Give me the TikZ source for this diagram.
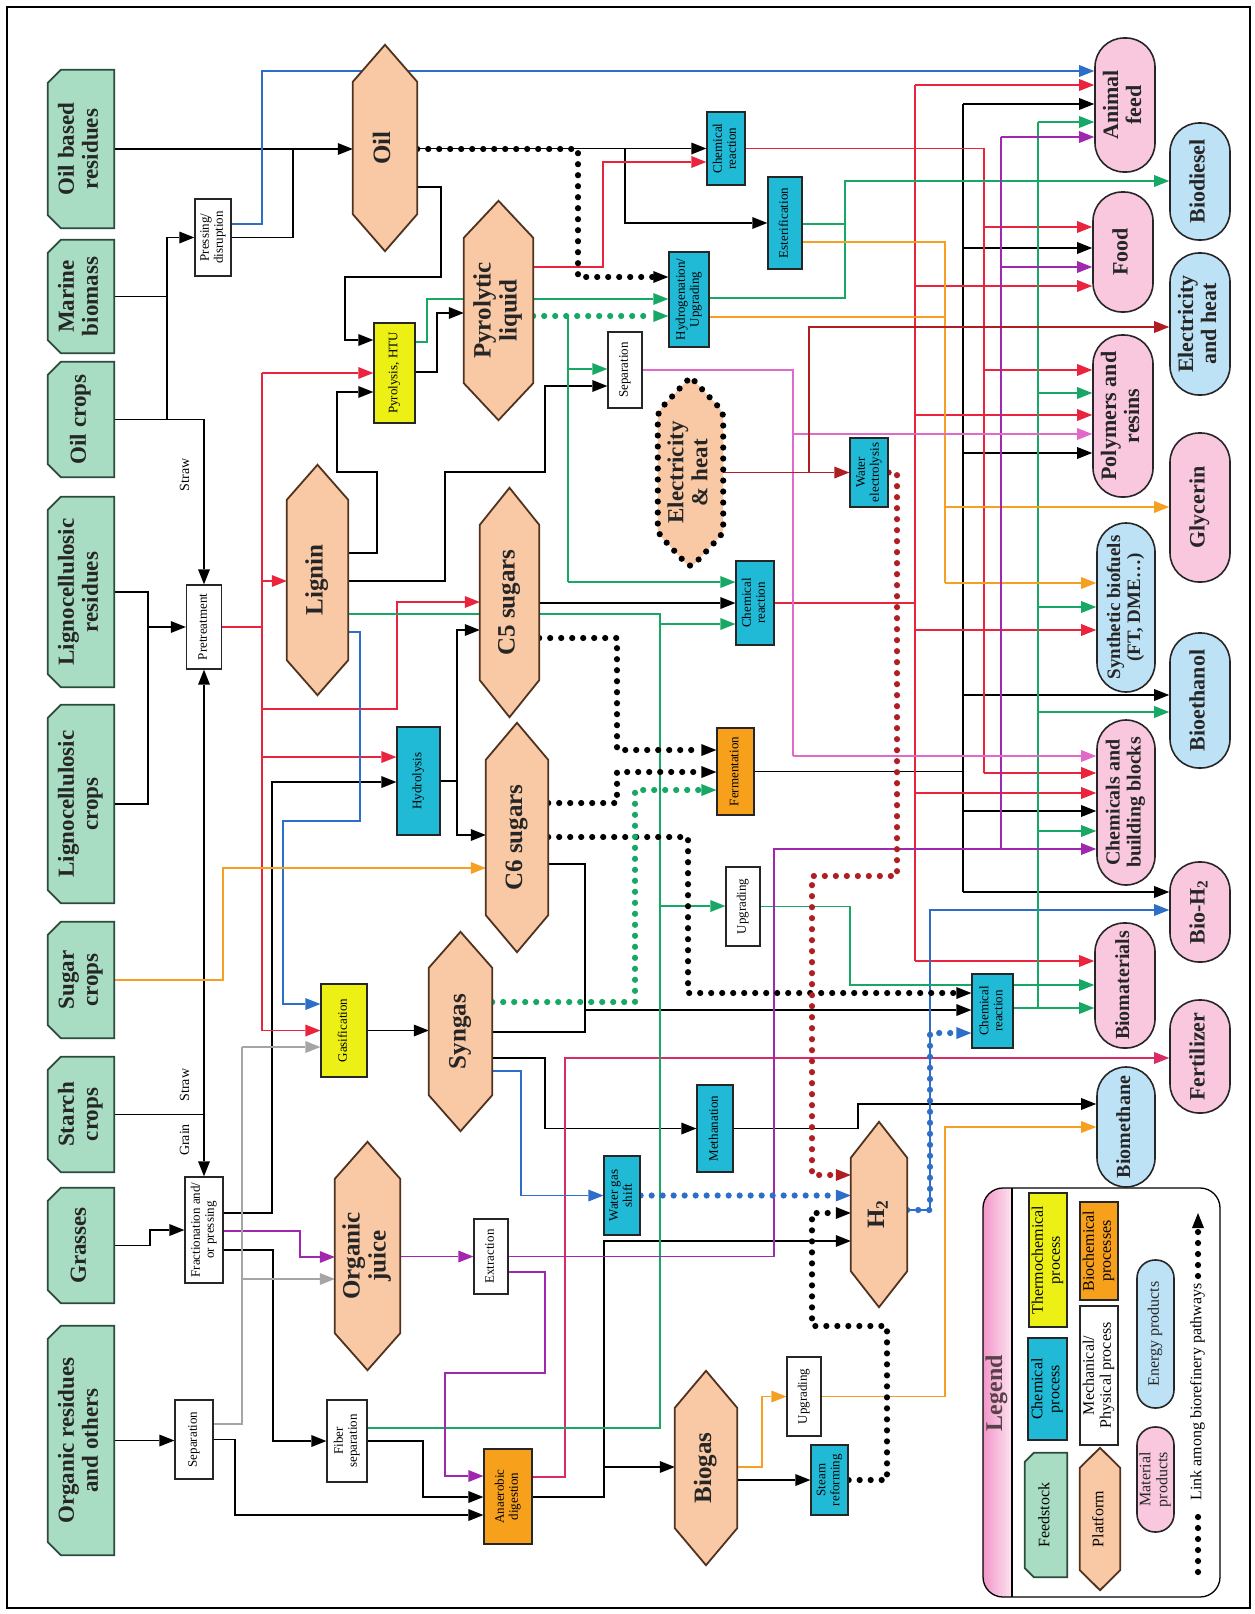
\documentclass[tikz,border=0pt]{standalone}
\usepackage{fontspec}
\setmainfont{Liberation Serif}
\usepackage{graphicx}
\usetikzlibrary{arrows.meta}
\pgfdeclarelayer{bg}
\pgfdeclarelayer{mid}
\pgfsetlayers{bg,mid,main}
\definecolor{cfeed}{RGB}{168,221,195}
\definecolor{cfeedd}{RGB}{45,75,60}
\definecolor{cplat}{RGB}{249,200,164}
\definecolor{cplatd}{RGB}{80,50,30}
\definecolor{ccyan}{RGB}{32,186,214}
\definecolor{cyel}{RGB}{236,240,20}
\definecolor{corg}{RGB}{247,160,28}
\definecolor{cenergy}{RGB}{190,226,245}
\definecolor{cmat}{RGB}{249,200,222}
\definecolor{cstripa}{RGB}{242,150,200}
\definecolor{cstripb}{RGB}{252,228,240}
\definecolor{lred}{RGB}{234,36,60}
\definecolor{lblue}{RGB}{45,110,200}
\definecolor{lgreen}{RGB}{22,168,100}
\definecolor{lorange}{RGB}{246,160,35}
\definecolor{lpurple}{RGB}{160,40,175}
\definecolor{lpink}{RGB}{225,105,200}
\definecolor{lmaroon}{RGB}{175,30,35}
\definecolor{lgray}{RGB}{165,165,165}
\definecolor{lcrim}{RGB}{215,45,100}
\newcommand\rt[1]{\rotatebox{90}{\begin{tabular}{@{}c@{}}#1\end{tabular}}}
\newcommand\myhex[3]{\path[#3] (#1.north) -- ([yshift=-#2pt]#1.north east) -- ([yshift=#2pt]#1.south east) -- (#1.south) -- ([yshift=#2pt]#1.south west) -- ([yshift=-#2pt]#1.north west) -- cycle;}
\newcommand\myfeed[2]{\path[feedshape] ([yshift=-#2pt]#1.north west) -- ([xshift=#2pt]#1.north west) -- (#1.north east) -- (#1.south east) -- ([xshift=#2pt]#1.south west) -- ([yshift=#2pt]#1.south west) -- cycle;}
\begin{document}
\begin{tikzpicture}[x=1pt,y=-1pt,
  feedshape/.style={fill=cfeed,draw=cfeedd,line width=1.8pt},
  feedtxt/.style={inner sep=0,font=\fontsize{23}{24}\selectfont\bfseries,text=black!85},
  platshape/.style={fill=cplat,draw=cplatd,line width=1.8pt},
  plattxt/.style={inner sep=0,font=\fontsize{25}{26}\selectfont\bfseries,text=black!85},
  proc/.style={draw=black!85,line width=1.3pt,inner sep=0,font=\fontsize{13}{14}\selectfont},
  prod/.style={draw=black!85,line width=1.6pt,inner sep=0,rounded corners=29pt,minimum width=60pt,font=\fontsize{22}{23}\selectfont\bfseries,text=black!85},
  lbl/.style={inner sep=0,font=\fontsize{14}{15}\selectfont},
  legtxt/.style={inner sep=0,font=\fontsize{16}{17}\selectfont},
  ar/.style={-{Triangle[length=15pt,width=12pt,line width=0pt]}},
  kl/.style={black,line width=1.6pt},
  rl/.style={lred,line width=1.4pt},
  crl/.style={lcrim,line width=1.4pt},
  bll/.style={lblue,line width=1.4pt},
  gl/.style={lgreen,line width=1.4pt},
  ol/.style={lorange,line width=1.4pt},
  pl/.style={lpurple,line width=1.6pt},
  pkl/.style={lpink,line width=1.3pt},
  ml/.style={lmaroon,line width=1.5pt},
  grl/.style={lgray,line width=1.4pt},
  dotl/.style={line width=6.2pt,line cap=round,dash pattern=on 0pt off 11pt},
  kd/.style={black,dotl},
  gd/.style={lgreen,dotl},
  bld/.style={lblue,dotl},
  md/.style={lmaroon,dotl}
]
\useasboundingbox (0,0) rectangle (1255,1614);
\begin{pgfonlayer}{bg}
\fill[white] (0,0) rectangle (1255,1614);
\end{pgfonlayer}

% ---------- feedstock ----------
\node[feedtxt,minimum width=66pt,minimum height=158pt] (fOilRes) at (81,149) {\rt{Oil based\\residues}};
\node[feedtxt,minimum width=66pt,minimum height=113pt] (fMarine) at (81,296.5) {\rt{Marine\\biomass}};
\node[feedtxt,minimum width=66pt,minimum height=115pt] (fOilCrops) at (81,419.5) {\rt{Oil crops}};
\node[feedtxt,minimum width=66pt,minimum height=190pt] (fLigRes) at (81,592) {\rt{Lignocellulosic\\residues}};
\node[feedtxt,minimum width=66pt,minimum height=198pt] (fLigCrops) at (81,804) {\rt{Lignocellulosic\\crops}};
\node[feedtxt,minimum width=66pt,minimum height=116pt] (fSugar) at (81,980) {\rt{Sugar\\crops}};
\node[feedtxt,minimum width=66pt,minimum height=115pt] (fStarch) at (81,1114.5) {\rt{Starch\\crops}};
\node[feedtxt,minimum width=66pt,minimum height=115pt] (fGrasses) at (81,1245.5) {\rt{Grasses}};
\node[feedtxt,minimum width=66pt,minimum height=229pt] (fOrganic) at (81,1440.5) {\rt{Organic residues\\and others}};

% ---------- platforms ----------
\node[plattxt,minimum width=64pt,minimum height=206pt] (oil) at (385,148) {\rt{Oil}};
\node[plattxt,minimum width=69pt,minimum height=219pt] (pyro) at (498.5,310.5) {\rt{Pyrolytic\\liquid}};
\node[plattxt,minimum width=61pt,minimum height=230pt] (lignin) at (317.5,580) {\rt{Lignin}};
\node[plattxt,minimum width=59pt,minimum height=229pt] (c5) at (509.5,602.5) {\rt{C5 sugars}};
\node[plattxt,minimum width=62pt,minimum height=229pt] (c6) at (517,837.5) {\rt{C6 sugars}};
\node[plattxt,minimum width=63pt,minimum height=199pt] (syngas) at (460.5,1031.5) {\rt{Syngas}};
\node[plattxt,minimum width=65pt,minimum height=228pt] (ojuice) at (367.5,1256) {\rt{Organic\\juice}};
\node[plattxt,minimum width=62pt,minimum height=194pt] (biogas) at (706,1468) {\rt{Biogas}};
\node[plattxt,minimum width=56pt,minimum height=185pt] (h2) at (879,1214.5) {\rt{H\textsubscript{2}}};
\node[plattxt,minimum width=65pt,minimum height=191pt,font=\fontsize{23}{24}\selectfont\bfseries] (elec) at (690.5,472.5) {\rt{Electricity\\\& heat}};

% ---------- processes ----------
\node[proc,fill=white,minimum width=36pt,minimum height=77pt] (press) at (213,237.5) {\rt{Pressing/\\disruption}};
\node[proc,fill=white,minimum width=35pt,minimum height=84pt] (pret) at (204,627) {\rt{Pretreatment}};
\node[proc,fill=white,minimum width=38pt,minimum height=106pt] (frac) at (204,1230) {\rt{Fractionation and/\\or pressing}};
\node[proc,fill=white,minimum width=38pt,minimum height=79pt] (sepb) at (194,1439.5) {\rt{Separation}};
\node[proc,fill=white,minimum width=40pt,minimum height=82pt] (fiber) at (347,1441) {\rt{Fiber\\separation}};
\node[proc,fill=cyel,minimum width=41pt,minimum height=100pt] (pyrol) at (394.5,373) {\rt{Pyrolysis, HTU}};
\node[proc,fill=ccyan,minimum width=43pt,minimum height=108pt] (hydrol) at (418.5,781) {\rt{Hydrolysis}};
\node[proc,fill=cyel,minimum width=46pt,minimum height=93pt] (gasif) at (344,1030.5) {\rt{Gasification}};
\node[proc,fill=white,minimum width=34pt,minimum height=75pt] (extr) at (491,1256.5) {\rt{Extraction}};
\node[proc,fill=corg,minimum width=48pt,minimum height=95pt] (anaer) at (508,1496.5) {\rt{Anaerobic\\digestion}};
\node[proc,fill=ccyan,minimum width=36pt,minimum height=79pt] (wgs) at (622,1195.5) {\rt{Water gas\\shift}};
\node[proc,fill=ccyan,minimum width=36pt,minimum height=87pt] (meth) at (715,1128.5) {\rt{Methanation}};
\node[proc,fill=white,minimum width=34pt,minimum height=79pt] (upgm) at (743,906.5) {\rt{Upgrading}};
\node[proc,fill=white,minimum width=34pt,minimum height=79pt] (upgb) at (804,1396.5) {\rt{Upgrading}};
\node[proc,fill=ccyan,minimum width=37pt,minimum height=70pt] (steam) at (829.5,1480) {\rt{Steam\\reforming}};
\node[proc,fill=corg,minimum width=37pt,minimum height=87pt] (ferm) at (735.5,771.5) {\rt{Fermentation}};
\node[proc,fill=ccyan,minimum width=38pt,minimum height=84pt] (chemm) at (755,603) {\rt{Chemical\\reaction}};
\node[proc,fill=white,minimum width=34pt,minimum height=76pt] (sept) at (625,370) {\rt{Separation}};
\node[proc,fill=ccyan,minimum width=40pt,minimum height=95pt] (hydrog) at (689,299.5) {\rt{Hydrogenation/\\Upgrading}};
\node[proc,fill=ccyan,minimum width=38pt,minimum height=73pt] (chemt) at (726,148.5) {\rt{Chemical\\reaction}};
\node[proc,fill=ccyan,minimum width=34pt,minimum height=92pt] (ester) at (785,223) {\rt{Esterification}};
\node[proc,fill=ccyan,minimum width=38pt,minimum height=69pt] (welec) at (869,472.5) {\rt{Water\\electrolysis}};
\node[proc,fill=ccyan,minimum width=41pt,minimum height=74pt] (chemb) at (992.5,1011) {\rt{Chemical\\reaction}};

% ---------- products ----------
\node[prod,fill=cmat,minimum height=134pt] (pAnimal) at (1125,105) {\rt{Animal\\feed}};
\node[prod,fill=cmat,minimum height=120pt] (pFood) at (1123,252) {\rt{Food}};
\node[prod,fill=cmat,minimum height=162pt] (pPoly) at (1123,416) {\rt{Polymers and\\resins}};
\node[prod,fill=cenergy,minimum width=58pt,minimum height=169pt,font=\fontsize{19}{20}\selectfont\bfseries] (pSynth) at (1126,607.5) {\rt{Synthetic biofuels\\(FT, DME…)}};
\node[prod,fill=cmat,minimum width=58pt,minimum height=165pt,font=\fontsize{20}{21}\selectfont\bfseries] (pChem) at (1126,802.5) {\rt{Chemicals and\\building blocks}};
\node[prod,fill=cmat,minimum height=125pt,font=\fontsize{20}{21}\selectfont\bfseries] (pBiomat) at (1125,985.5) {\rt{Biomaterials}};
\node[prod,fill=cenergy,minimum width=58pt,minimum height=120pt,font=\fontsize{20}{21}\selectfont\bfseries] (pBiometh) at (1126,1127) {\rt{Biomethane}};
\node[prod,fill=cenergy,minimum height=117pt] (pBiodiesel) at (1200,181.5) {\rt{Biodiesel}};
\node[prod,fill=cenergy,minimum height=142pt] (pElec) at (1200,324) {\rt{Electricity\\and heat}};
\node[prod,fill=cmat,minimum height=149pt] (pGly) at (1200,507.5) {\rt{Glycerin}};
\node[prod,fill=cenergy,minimum height=135pt] (pEthanol) at (1200,700.5) {\rt{Bioethanol}};
\node[prod,fill=cmat,minimum height=100pt] (pBioH2) at (1200,912) {\rt{Bio-H\textsubscript{2}}};
\node[prod,fill=cmat,minimum height=113pt] (pFert) at (1200,1056.5) {\rt{Fertilizer}};

% ---------- labels ----------
\node[lbl] (lStrawA) at (186,475) {\rt{Straw}};
\node[lbl] (lStrawB) at (186,1085) {\rt{Straw}};
\node[lbl] (lGrain) at (186,1140) {\rt{Grain}};

% ---------- legend ----------
\begin{pgfonlayer}{bg}
\begin{scope}
\clip[rounded corners=20pt] (983,1188) rectangle (1220,1597);
\shade[left color=cstripa, right color=cstripb] (983,1188) rectangle (1012,1597);
\end{scope}
\draw[line width=1.3pt,rounded corners=20pt] (983,1188) rectangle (1220,1597);
\draw[line width=1.3pt] (1012,1188) -- (1012,1597);
\end{pgfonlayer}
\node[inner sep=0,font=\fontsize{24}{25}\selectfont\bfseries,text=black!75!magenta] (legTitle) at (997,1393) {\rt{Legend}};
\node[legtxt,minimum width=42pt,minimum height=124pt] (legFeed) at (1046,1515) {\rt{Feedstock}};
\node[proc,legtxt,fill=ccyan,minimum width=39pt,minimum height=102pt] (legChem) at (1047.5,1389) {\rt{Chemical\\process}};
\node[proc,legtxt,fill=cyel,minimum width=38pt,minimum height=134pt] (legThermo) at (1048,1260) {\rt{Thermochemical\\process}};
\node[proc,legtxt,fill=corg,minimum width=38pt,minimum height=98pt] (legBio) at (1099,1251) {\rt{Biochemical\\processes}};
\node[proc,legtxt,fill=white,minimum width=38pt,minimum height=139pt] (legMech) at (1099,1375.5) {\rt{Mechanical/\\Physical process}};
\node[legtxt,minimum width=40pt,minimum height=142pt] (legPlat) at (1100,1519) {\rt{Platform}};
\node[prod,legtxt,fill=cenergy,minimum width=37pt,rounded corners=18pt,minimum height=148pt] (legEnergy) at (1155.5,1334) {\rt{Energy products}};
\node[prod,legtxt,fill=cmat,minimum width=37pt,rounded corners=18pt,minimum height=105pt] (legMat) at (1155.5,1479.5) {\rt{Material\\products}};
\node[legtxt] (legLink) at (1198,1392) {\rt{Link among biorefinery pathways}};

% ---------- shapes (mid layer) ----------
\begin{pgfonlayer}{mid}
\myfeed{fOilRes}{13}
\myfeed{fMarine}{13}
\myfeed{fOilCrops}{13}
\myfeed{fLigRes}{13}
\myfeed{fLigCrops}{13}
\myfeed{fSugar}{13}
\myfeed{fStarch}{13}
\myfeed{fGrasses}{13}
\myfeed{fOrganic}{13}
\myfeed{legFeed}{9}
\myhex{oil}{37}{platshape}
\myhex{pyro}{37}{platshape}
\myhex{lignin}{35}{platshape}
\myhex{c5}{37}{platshape}
\myhex{c6}{37}{platshape}
\myhex{syngas}{36}{platshape}
\myhex{ojuice}{37}{platshape}
\myhex{biogas}{37}{platshape}
\myhex{h2}{36}{platshape}
\myhex{legPlat}{20}{platshape}
\myhex{elec}{35}{fill=cplat,draw=black,dotl,rounded corners=6pt}
\end{pgfonlayer}

% ---------- connectors (bg layer) ----------
\begin{pgfonlayer}{bg}
% black
\draw[kl,ar] (fOilRes.east) -- (fOilRes.east -| oil.west);
\draw[kl] (press.east) -| (293,149);
\draw[kl,ar] (fMarine.east) -- (167,296.5) |- (press.west);
\draw[kl] (fOilCrops.east) -| (167,296.5);
\draw[kl,ar] (fOilCrops.east) -| (pret.north);
\draw[kl,ar] (fLigRes.east) -| (148,627) -- (pret.west);
\draw[kl] (fLigCrops.east) -| (148,627);
\draw[kl] (fStarch.east) -- (204,1114.5);
\draw[kl,ar] (204,1114.5) -- (pret.south);
\draw[kl,ar] (204,1114.5) -- (frac.north);
\draw[kl,ar] (oil.east |- 0,187) -- (441,187) -- (441,277) -| (345,340) -- (pyrol.west |- 0,340);
\draw[kl,ar] (lignin.east |- 0,553) -- (377,553) -- (377,472) -- (337,472) -- (337,392) -- (pyrol.west |- 0,392);
\draw[kl,ar] (pyrol.east |- 0,372) -- (437,372) -- (437,313) -- (pyro.west |- 0,313);
\draw[kl,ar] (oil.east |- chemt.west) -- (chemt.west);
\draw[kl,ar] (625,148.5) |- (ester.west);
\draw[kl,ar] (lignin.east |- 0,581) -- (445,581) -- (445,472) -- (545,472) -- (545,386) -- (sept.west |- 0,386);
\draw[kl,ar] (c5.east |- chemm.west) -- (chemm.west);
\draw[kl] (hydrol.east) -- (457,781);
\draw[kl,ar] (457,781) |- (c5.west |- 0,630);
\draw[kl,ar] (457,781) |- (c6.west |- 0,835);
\draw[kl,ar] (frac.east |- 0,1213) -- (272,1213) -- (272,782) -- (hydrol.west |- 0,782);
\draw[kl,ar] (gasif.east) -- (gasif.east -| syngas.west);
\draw[kl,ar] (c6.east |- 0,864) -- (585,864) |- (chemb.west |- 0,1010);
\draw[kl] (syngas.east |- 0,1032) -| (585,1010);
\draw[kl,ar] (syngas.east |- 0,1058) -- (545,1058) |- (meth.west);
\draw[kl,ar] (meth.east) -- (858,1128.5) |- (pBiometh.west |- 0,1104);
\draw[kl,ar] (frac.east |- 0,1250) -- (273,1250) |- (fiber.west);
\draw[kl,ar] (fGrasses.east) -- (150,1245.5) |- (frac.west);
\draw[kl,ar] (fOrganic.east) -- (fOrganic.east -| sepb.west);
\draw[kl,ar] (sepb.east) -- (235,1439.5) |- (anaer.west |- 0,1515);
\draw[kl,ar] (fiber.east) -- (423,1441) |- (anaer.west |- 0,1497);
\draw[kl] (anaer.east |- 0,1497) -- (604,1497) -- (604,1467);
\draw[kl,ar] (604,1467) -- (biogas.west |- 0,1467);
\draw[kl,ar] (604,1467) |- (h2.west |- 0,1241);
\draw[kl,ar] (biogas.east |- steam.west) -- (steam.west);
\draw[kl] (ferm.east) -- (963,771.5);
\draw[kl] (963,104) -- (963,892);
\draw[kl,ar] (963,104) -- (pAnimal.west |- 0,104);
\draw[kl,ar] (963,248) -- (pFood.west |- 0,248);
\draw[kl,ar] (963,453) -- (pPoly.west |- 0,453);
\draw[kl,ar] (963,695) -- (pEthanol.west |- 0,695);
\draw[kl,ar] (963,811) -- (pChem.west |- 0,811);
\draw[kl,ar] (963,892) -- (pBioH2.west |- 0,892);
% red
\draw[rl] (pret.east) -- (262,627);
\draw[rl] (262,373) -- (262,1030.5);
\draw[rl,ar] (262,373) -- (pyrol.west |- 0,373);
\draw[rl,ar] (262,581) -- (lignin.west |- 0,581);
\draw[rl,ar] (262,709) -- (397,709) -- (397,602) -- (c5.west |- 0,602);
\draw[rl,ar] (262,757) -- (hydrol.west |- 0,757);
\draw[rl,ar] (262,1030.5) -- (gasif.west);
\draw[rl,ar] (pyro.east |- 0,267) -- (603,267) |- (chemt.west |- 0,162);
\draw[rl] (chemt.east) -- (984,148.5) -- (984,773);
\draw[rl,ar] (984,227) -- (pFood.west |- 0,227);
\draw[rl,ar] (984,370) -- (pPoly.west |- 0,370);
\draw[rl,ar] (984,773) -- (pChem.west |- 0,773);
\draw[rl] (chemm.east) -- (915,603);
\draw[rl] (915,85) -- (915,961);
\draw[rl,ar] (915,85) -- (pAnimal.west |- 0,85);
\draw[rl,ar] (915,286) -- (pFood.west |- 0,286);
\draw[rl,ar] (915,415) -- (pPoly.west |- 0,415);
\draw[rl,ar] (915,630) -- (pSynth.west |- 0,630);
\draw[rl,ar] (915,793) -- (pChem.west |- 0,793);
\draw[rl,ar] (915,961) -- (pBiomat.west |- 0,961);
\draw[crl,ar] (anaer.east |- 0,1477) -- (565,1477) |- (pFert.west |- 0,1058);
% blue
\draw[bll,ar] (press.east |- 0,224) -- (262,224) |- (pAnimal.west |- 0,71);
\draw[bll,ar] (lignin.east |- 0,632) -- (360,632) -- (360,821) -- (283,821) |- (gasif.west |- 0,1004);
\draw[bll,ar] (syngas.east |- 0,1071) -- (521,1071) |- (wgs.west);
\draw[bll,ar] (h2.east |- 0,1210) -- (930,1210) |- (pBioH2.west |- 0,910);
% green
\draw[gl,ar] (pyrol.east |- 0,342) -- (427,342) |- (hydrog.west |- 0,299);
\draw[gl] (568,316) -- (568,582);
\draw[gl,ar] (568,582) -- (chemm.west |- 0,582);
\draw[gl,ar] (568,369) -- (sept.west |- 0,369);
\draw[gl] (lignin.east |- 0,614) -- (660,614) -- (660,1428) -- (fiber.east |- 0,1428);
\draw[gl,ar] (660,624) -- (chemm.west |- 0,624);
\draw[gl,ar] (660,906) -- (upgm.west |- 0,906);
\draw[gl,ar] (upgm.east) -- (850,906.5) |- (pBiomat.west |- 0,985);
\draw[gl,ar] (chemb.east |- 0,1008) -- (pBiomat.west |- 0,1008);
\draw[gl] (1038,1008) -- (1038,122);
\draw[gl,ar] (1038,122) -- (pAnimal.west |- 0,122);
\draw[gl,ar] (1038,393) -- (pPoly.west |- 0,393);
\draw[gl,ar] (1038,607) -- (pSynth.west |- 0,607);
\draw[gl,ar] (1038,712) -- (pEthanol.west |- 0,712);
\draw[gl,ar] (1038,831) -- (pChem.west |- 0,831);
\draw[gl,ar] (ester.east |- 0,224) -- (845,224) |- (pBiodiesel.west |- 0,181);
\draw[gl] (hydrog.east |- 0,298) -| (845,224);
% orange
\draw[ol,ar] (fSugar.east) -- (223,980) |- (c6.west |- 0,868);
\draw[ol] (ester.east |- 0,242) -- (945,242) -- (945,583);
\draw[ol] (hydrog.east |- 0,317) -- (945,317);
\draw[ol,ar] (945,507) -- (pGly.west |- 0,507);
\draw[ol,ar] (945,583) -- (pSynth.west |- 0,583);
\draw[ol,ar] (biogas.east |- 0,1467) -- (762,1467) |- (upgb.west);
\draw[ol,ar] (upgb.east) -- (945,1396.5) |- (pBiometh.west |- 0,1127);
% purple
\draw[pl,ar] (frac.east |- 0,1231) -- (300,1231) |- (ojuice.west |- 0,1257);
\draw[pl,ar] (ojuice.east |- extr.west) -- (extr.west);
\draw[pl,ar] (extr.east |- 0,1272) -- (545,1272) -- (545,1373) -- (445,1373) |- (anaer.west |- 0,1476);
\draw[pl,ar] (extr.east) -- (774,1256.5) |- (pChem.west |- 0,849);
\draw[pl] (1001,849) -- (1001,137);
\draw[pl,ar] (1001,137) -- (pAnimal.west |- 0,137);
\draw[pl,ar] (1001,267) -- (pFood.west |- 0,267);
% pink
\draw[pkl] (sept.east) -- (793,370) -- (793,756);
\draw[pkl,ar] (793,434) -- (pPoly.west |- 0,434);
\draw[pkl,ar] (793,756) -- (pChem.west |- 0,756);
% maroon
\draw[ml,ar] (elec.east |- welec.west) -- (welec.west);
\draw[ml,ar] (809,472.5) |- (pElec.west |- 0,327);
% gray
\draw[grl] (sepb.east |- 0,1424) -- (242,1424) -- (242,1047);
\draw[grl,ar] (242,1047) -- (gasif.west |- 0,1047);
\draw[grl,ar] (242,1279) -- (ojuice.west |- 0,1279);
% dotted links
\draw[kd,ar] (oil.east |- 0,149) -- (578,149) |- (hydrog.west |- 0,277);
\draw[kd,ar] (c5.east |- 0,638) -- (617,638) |- (ferm.west |- 0,750);
\draw[kd,ar] (c6.east |- 0,803) -- (617,803) |- (ferm.west |- 0,772);
\draw[kd,ar] (c6.east |- 0,837) -- (688,837) |- (chemb.west |- 0,993);
\draw[kd,ar] (steam.east) -- (887,1480) -- (887,1326) -- (812,1326) |- (h2.west |- 0,1213);
\draw[gd,ar] (pyro.east |- 0,316) -- (hydrog.west |- 0,316);
\draw[gd,ar] (syngas.east |- 0,1002) -- (635,1002) |- (ferm.west |- 0,790);
\draw[bld,ar] (wgs.east) -- (wgs.east -| h2.west);
\draw[bld,ar] (h2.east |- 0,1210) -- (930,1210) |- (chemb.west |- 0,1033);
\draw[md,ar] (welec.east) -- (897,472.5) -- (897,876) -- (812,876) |- (h2.west |- 0,1175);
% legend link
\draw[kd] (1198,1572) -- (1198,1510);
\draw[kd,ar] (1198,1276) -- (1198,1213);
\end{pgfonlayer}

% frame
\draw[line width=2pt] (7,7) rectangle (1250,1608);
\end{tikzpicture}
\end{document}
